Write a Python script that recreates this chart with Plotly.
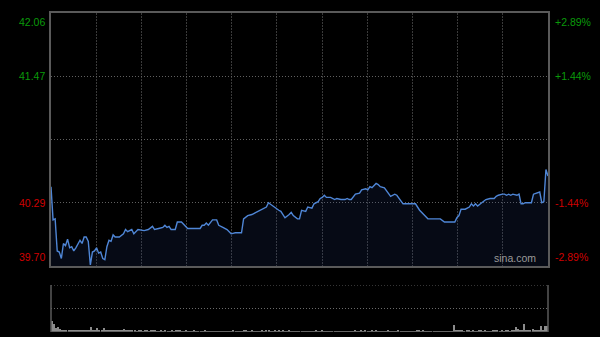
import plotly.graph_objects as go

# ---------------- data ----------------
minutes = [0, 1, 2, 3, 4, 5, 6, 7, 8, 9, 10, 11, 12, 14, 15, 16, 17, 18, 19, 20,
           21, 22, 23, 24, 25, 26, 27, 28, 29, 30, 31, 33, 35, 36, 37, 39, 40, 42, 45, 47,
           49, 50, 52, 54, 55, 56, 57, 58, 60, 61, 63, 65, 66, 72, 73, 74, 75, 76, 78, 80,
           81, 83, 85, 87, 89, 92, 93, 95, 97, 99, 101, 104, 105, 107, 108, 110, 111, 113, 115, 116,
           117, 119, 120, 121, 123, 124, 126, 127, 129, 130, 131, 132, 133, 135, 137, 138, 140, 142, 143, 144,
           145, 146, 147, 149, 150, 152, 153, 154, 155, 157, 158, 159, 161, 164, 166, 167, 170, 176, 178, 180,
           181, 182, 188, 190, 195, 196, 197, 198, 200, 202, 203, 204, 205, 206, 208, 210, 212, 214, 215, 216,
           218, 219, 220, 221, 222, 223, 225, 226, 227, 228, 229, 232, 233, 235, 236, 237, 238, 239, 240]
prices = [40.44, 40.13, 40.14, 39.84, 39.83, 39.77, 39.91, 39.89, 39.95, 39.87, 39.88, 39.84, 39.87, 39.94, 39.91, 39.97, 39.97, 39.93, 39.71, 39.83,
          39.84, 39.87, 39.82, 39.83, 39.77, 39.76, 39.88, 39.94, 39.93, 39.99, 39.97, 39.97, 40.00, 40.04, 40.02, 40.04, 40.00, 40.04, 40.03, 40.04,
          40.07, 40.04, 40.05, 40.06, 40.08, 40.06, 40.07, 40.04, 40.04, 40.11, 40.11, 40.07, 40.05, 40.05, 40.08, 40.08, 40.10, 40.08, 40.13, 40.13,
          40.08, 40.06, 40.04, 40.00, 40.01, 40.01, 40.14, 40.17, 40.18, 40.20, 40.22, 40.25, 40.29, 40.26, 40.25, 40.22, 40.21, 40.15, 40.18, 40.20,
          40.17, 40.14, 40.14, 40.22, 40.21, 40.25, 40.24, 40.28, 40.30, 40.33, 40.34, 40.36, 40.34, 40.34, 40.32, 40.33, 40.32, 40.32, 40.33, 40.32,
          40.32, 40.35, 40.37, 40.38, 40.41, 40.42, 40.41, 40.44, 40.43, 40.47, 40.46, 40.44, 40.43, 40.35, 40.37, 40.36, 40.28, 40.28, 40.22, 40.18,
          40.16, 40.14, 40.14, 40.11, 40.11, 40.15, 40.17, 40.23, 40.23, 40.25, 40.28, 40.26, 40.28, 40.26, 40.29, 40.32, 40.33, 40.33, 40.35, 40.36,
          40.37, 40.37, 40.36, 40.37, 40.36, 40.37, 40.36, 40.37, 40.28, 40.28, 40.29, 40.29, 40.37, 40.38, 40.39, 40.29, 40.30, 40.60, 40.54]

prev_close = 40.88
price_ticks = [42.06, 41.47, 40.29, 39.70]
pct_labels = ["+2.89%", "+1.44%", "-1.44%", "-2.89%"]
label_colors = ["#0a9a0a", "#0a9a0a", "#d00000", "#d00000"]

vol_minutes = list(range(241))
volumes = [1100, 780, 420, 500, 300, 250, 220, 180, 200, 150, 230, 160, 140, 170, 210, 160, 130, 150, 140, 480,
           180, 150, 380, 160, 140, 450, 200, 150, 130, 140, 120, 150, 130, 110, 140, 300, 150, 120, 110, 130,
           120, 100, 130, 110, 100, 120, 110, 100, 120, 200, 110, 100, 90, 110, 100, 120, 90, 100, 110, 100,
           130, 250, 120, 100, 90, 110, 100, 90, 100, 110, 90, 80, 100, 90, 110, 100, 90, 80, 100, 90,
           100, 90, 80, 100, 90, 80, 100, 90, 110, 80, 90, 100, 80, 150, 120, 100, 90, 110, 100, 90,
           100, 90, 110, 80, 120, 130, 100, 90, 110, 100, 120, 90, 110, 100, 90, 110, 100, 80, 100, 90,
           100, 80, 90, 80, 100, 90, 80, 100, 110, 90, 100, 120, 90, 80, 100, 90, 80, 90, 100, 80,
           90, 80, 90, 100, 80, 90, 100, 110, 90, 100, 110, 100, 120, 90, 100, 110, 90, 130, 100, 90,
           100, 90, 80, 110, 90, 100, 80, 90, 110, 100, 90, 80, 100, 90, 80, 90, 100, 110, 120, 100,
           110, 100, 90, 80, 90, 80, 90, 100, 80, 90, 100, 90, 80, 90, 100, 700, 120, 220, 130, 110,
           100, 110, 120, 100, 110, 90, 100, 110, 120, 100, 110, 100, 90, 100, 110, 120, 200, 100, 110, 100,
           120, 110, 100, 110, 130, 500, 300, 120, 150, 800, 200, 150, 120, 300, 150, 120, 200, 600, 250, 600, 650]
vol_max = 4700

# ---------------- layout geometry ----------------
W, H = 600, 337
x0, x1 = 51 / W, 548 / W
main_dom = [1 - 266 / H, 1 - 13 / H]
vol_dom = [1 - 332 / H, 1 - 285 / H]
n_vdiv = 11
vgrid = [240 * i / n_vdiv for i in range(1, n_vdiv)]

fig = go.Figure()

fig.add_trace(go.Scatter(
    x=minutes, y=prices, mode="lines",
    line=dict(color="#4f86d6", width=1.4),
    fill="tozeroy", fillcolor="rgba(35,65,130,0.16)",
    hoverinfo="skip", showlegend=False, xaxis="x", yaxis="y"))

fig.add_trace(go.Bar(
    x=vol_minutes, y=volumes, width=0.5,
    marker=dict(color="#8c8c8c", line=dict(width=0)),
    hoverinfo="skip", showlegend=False, xaxis="x2", yaxis="y2"))

fig.update_layout(
    width=W, height=H,
    margin=dict(l=0, r=0, t=0, b=0),
    paper_bgcolor="#000000", plot_bgcolor="#000000",
    font=dict(family="Arial, Liberation Sans, sans-serif", size=10),
    bargap=0,
    xaxis=dict(domain=[x0, x1], range=[0, 240], tickvals=vgrid, showticklabels=False,
               ticks="", showgrid=True, gridcolor="#3a3a3a", griddash="2px,1px", gridwidth=1,
               showline=True, mirror=True, linecolor="#5a5a5a", linewidth=1.5, zeroline=False,
               anchor="y"),
    yaxis=dict(domain=main_dom, range=[price_ticks[-1], price_ticks[0]],
               tickvals=[price_ticks[1], prev_close, price_ticks[2]], showticklabels=False,
               ticks="", showgrid=True, gridcolor="#606060", griddash="1px,2px", gridwidth=1,
               showline=True, mirror=True, linecolor="#5a5a5a", linewidth=1.5, zeroline=False,
               anchor="x"),
    xaxis2=dict(domain=[x0, x1], range=[-0.5, 240.5], showticklabels=False, ticks="",
                showgrid=False, zeroline=False, showline=False, anchor="y2"),
    yaxis2=dict(domain=vol_dom, range=[0, vol_max], showticklabels=False, ticks="",
                showgrid=False, zeroline=False, showline=False, anchor="x2"),
)

shapes = []
# volume panel frame: dotted top & middle, solid sides
for frac in (0.5, 1.0):
    shapes.append(dict(type="line", xref="paper", yref="y2", x0=x0, x1=x1,
                       y0=vol_max * frac, y1=vol_max * frac,
                       line=dict(color="#6a6a6a", width=1, dash="1px,2px")))
shapes.append(dict(type="line", xref="paper", yref="y2", x0=x0, x1=x1, y0=0, y1=0,
                   line=dict(color="#3c3c3c", width=1)))
for xx in (x0, x1):
    shapes.append(dict(type="line", xref="paper", yref="y2", x0=xx, x1=xx, y0=0, y1=vol_max,
                       line=dict(color="#5a5a5a", width=1.5)))
fig.update_layout(shapes=shapes)

anns = []
anchors = ["top", "middle", "middle", "bottom"]
for p, pct, col, ya in zip(price_ticks, pct_labels, label_colors, anchors):
    anns.append(dict(x=48 / W, xref="paper", y=p, yref="y", text=f"{p:.2f}",
                     xanchor="right", yanchor=ya, showarrow=False,
                     font=dict(color=col, size=10.5), borderpad=2))
    anns.append(dict(x=552 / W, xref="paper", y=p, yref="y", text=pct,
                     xanchor="left", yanchor=ya, showarrow=False,
                     font=dict(color=col, size=10.5), borderpad=2))
anns.append(dict(x=538 / W, xref="paper", y=price_ticks[-1], yref="y", text="sina.com",
                 xanchor="right", yanchor="bottom", showarrow=False,
                 font=dict(color="#9a9a9a", size=10.5), borderpad=1))
fig.update_layout(annotations=anns)

fig.write_html("out.html")
